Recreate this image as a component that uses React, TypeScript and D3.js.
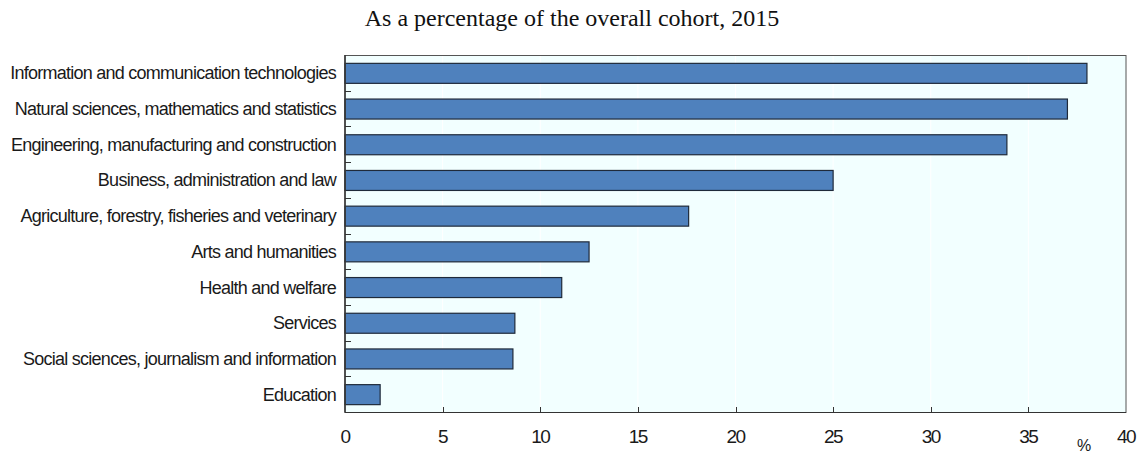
import React, { useEffect, useRef } from 'react';
import * as d3 from 'd3';

const categories: string[] = [
  'Information and communication technologies',
  'Natural sciences, mathematics and statistics',
  'Engineering, manufacturing and construction',
  'Business, administration and law',
  'Agriculture, forestry, fisheries and veterinary',
  'Arts and humanities',
  'Health and welfare',
  'Services',
  'Social sciences, journalism and information',
  'Education',
];

const values: number[] = [38.0, 37.0, 33.9, 25.0, 17.6, 12.5, 11.1, 8.7, 8.6, 1.8];

const xTicks: number[] = [0, 5, 10, 15, 20, 25, 30, 35, 40];

const title = 'As a percentage of the overall cohort, 2015';

export default function App() {
  const ref = useRef<SVGSVGElement>(null);

  useEffect(() => {
    const height = 455;
    const margin = { top: 55, bottom: 43, left: 345 };

    const svg = d3.select(ref.current);
    svg.selectAll('*').remove();

    const xScale = d3
      .scaleLinear()
      .domain([0, 40])
      .range([margin.left, margin.left + 781]);

    const yScale = d3
      .scaleBand()
      .domain(categories)
      .range([margin.top, height - margin.bottom])
      .paddingInner(0.44)
      .paddingOuter(0.22);

    const x0 = xScale(0);
    const x1 = xScale(40);
    const y0 = margin.top;
    const y1 = height - margin.bottom;

    // plot background
    svg
      .append('rect')
      .attr('x', x0)
      .attr('y', y0)
      .attr('width', x1 - x0)
      .attr('height', y1 - y0)
      .attr('fill', '#f2ffff');

    // white gridlines
    svg
      .append('g')
      .selectAll('line')
      .data(xTicks.slice(1, -1))
      .enter()
      .append('line')
      .attr('x1', (d) => xScale(d))
      .attr('x2', (d) => xScale(d))
      .attr('y1', y0)
      .attr('y2', y1)
      .attr('stroke', '#ffffff')
      .attr('stroke-width', 1);

    // bars
    svg
      .append('g')
      .selectAll('rect')
      .data(categories)
      .enter()
      .append('rect')
      .attr('x', x0)
      .attr('y', (d) => (yScale(d) as number) + 0.5)
      .attr('width', (d, i) => xScale(values[i]) - x0)
      .attr('height', yScale.bandwidth())
      .attr('fill', '#4f81bd')
      .attr('stroke', '#1f2a3a')
      .attr('stroke-width', 1.2);

    // frame
    svg
      .append('rect')
      .attr('x', x0)
      .attr('y', y0 + 0.5)
      .attr('width', x1 - x0)
      .attr('height', y1 - y0)
      .attr('fill', 'none')
      .attr('stroke', '#555')
      .attr('stroke-width', 1);

    svg
      .append('line')
      .attr('x1', x0)
      .attr('x2', x0)
      .attr('y1', y0)
      .attr('y2', y1 + 0.5)
      .attr('stroke', '#333')
      .attr('stroke-width', 1.5);
    svg
      .append('line')
      .attr('x1', x0)
      .attr('x2', x1)
      .attr('y1', y1 + 0.5)
      .attr('y2', y1 + 0.5)
      .attr('stroke', '#333')
      .attr('stroke-width', 1.2);

    // y ticks between the bars
    const step = yScale.step();
    const gap = step - yScale.bandwidth();
    const boundaries = categories
      .slice(0, -1)
      .map((d) => (yScale(d) as number) + yScale.bandwidth() + gap / 2);
    svg
      .append('g')
      .selectAll('line')
      .data(boundaries)
      .enter()
      .append('line')
      .attr('x1', x0)
      .attr('x2', x0 + 6)
      .attr('y1', (d) => Math.round(d) + 0.5)
      .attr('y2', (d) => Math.round(d) + 0.5)
      .attr('stroke', '#333')
      .attr('stroke-width', 1);

    // x ticks pointing up
    svg
      .append('g')
      .selectAll('line')
      .data(xTicks.slice(1, -1))
      .enter()
      .append('line')
      .attr('x1', (d) => Math.round(xScale(d)) + 0.5)
      .attr('x2', (d) => Math.round(xScale(d)) + 0.5)
      .attr('y1', y1)
      .attr('y2', y1 - 5)
      .attr('stroke', '#333')
      .attr('stroke-width', 1);

    const font = '"Liberation Sans", Arial, sans-serif';

    svg
      .append('g')
      .selectAll('text')
      .data(categories)
      .enter()
      .append('text')
      .attr('x', x0 - 9)
      .attr('y', (d) => (yScale(d) as number) + yScale.bandwidth() / 2 + 6.5)
      .attr('text-anchor', 'end')
      .attr('font-family', font)
      .attr('font-size', 18)
      .attr('letter-spacing', -0.75)
      .attr('fill', '#1a1a1a')
      .text((d) => d);

    svg
      .append('g')
      .selectAll('text')
      .data(xTicks)
      .enter()
      .append('text')
      .attr('x', (d) => xScale(d))
      .attr('y', 443)
      .attr('text-anchor', 'middle')
      .attr('font-family', font)
      .attr('font-size', 19)
      .attr('letter-spacing', -1.5)
      .attr('fill', '#1a1a1a')
      .text((d) => d);

    svg
      .append('text')
      .attr('x', 1084)
      .attr('y', 451)
      .attr('text-anchor', 'middle')
      .attr('font-family', font)
      .attr('font-size', 16)
      .attr('fill', '#1a1a1a')
      .text('%');

    svg
      .append('text')
      .attr('x', 572)
      .attr('y', 26)
      .attr('text-anchor', 'middle')
      .attr('font-family', '"Liberation Serif", "Times New Roman", serif')
      .attr('font-size', 24)
      .attr('fill', '#111')
      .text(title);
  }, []);

  return (
    <svg
      ref={ref}
      width={1141}
      height={455}
      style={{ position: 'absolute', left: 0, top: 0, background: '#fff' }}
    />
  );
}
